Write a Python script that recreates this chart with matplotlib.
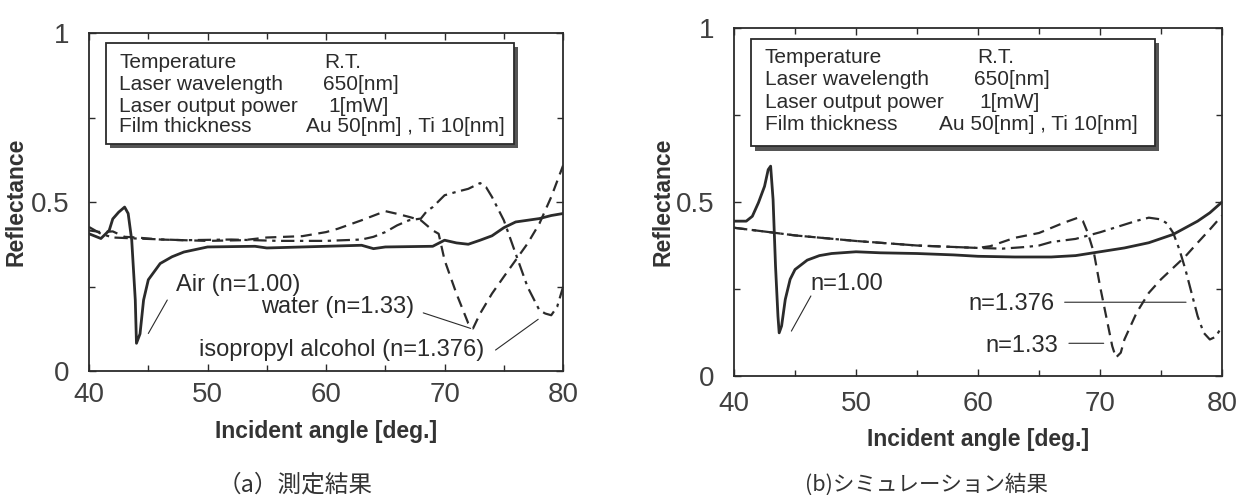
import matplotlib.pyplot as plt
import matplotlib.patches as patches
import numpy as np

plt.rcParams['font.family'] = ['Liberation Sans', 'Noto Sans CJK JP', 'DejaVu Sans']

# (a) measured
meas_air_x = [40, 41, 41.7, 42, 42.5, 43, 43.3, 43.6, 43.9, 44.0, 44.3, 44.6, 45, 46, 47, 48, 50,
              54, 55, 60, 63, 64, 65, 69, 70, 71, 72, 73, 74, 75, 76, 77, 78, 79, 80]
meas_air_y = [0.406, 0.392, 0.416, 0.45, 0.47, 0.485, 0.466, 0.387, 0.21, 0.082, 0.11, 0.21, 0.27,
              0.318, 0.338, 0.352, 0.367, 0.369, 0.364, 0.369, 0.372, 0.362, 0.367, 0.369, 0.387,
              0.379, 0.375, 0.387, 0.40, 0.424, 0.441, 0.446, 0.451, 0.46, 0.466]
meas_water_x = [40, 41, 42, 43, 44, 46, 50, 53, 55, 58, 60, 61, 63, 65, 66, 67, 68, 69, 69.5, 70,
                71, 72, 72.4, 73, 74, 75, 76, 77, 78, 79, 80]
meas_water_y = [0.416, 0.411, 0.413, 0.397, 0.395, 0.389, 0.385, 0.387, 0.395, 0.399, 0.411, 0.421,
                0.446, 0.473, 0.465, 0.456, 0.446, 0.416, 0.406, 0.328, 0.229, 0.141, 0.126, 0.17,
                0.229, 0.279, 0.328, 0.377, 0.436, 0.515, 0.608]
meas_ipa_x = [40, 41, 42, 44, 48, 52, 56, 60, 63, 64, 65, 66, 67, 68, 68.5, 69, 70, 71, 72, 73,
              73.5, 74, 75, 76, 77, 78, 78.5, 79, 79.5, 80]
meas_ipa_y = [0.426, 0.406, 0.395, 0.392, 0.387, 0.389, 0.385, 0.385, 0.389, 0.397, 0.411, 0.431,
              0.446, 0.451, 0.473, 0.485, 0.52, 0.53, 0.539, 0.556, 0.544, 0.515, 0.446, 0.347,
              0.249, 0.18, 0.17, 0.165, 0.19, 0.249]

# (b) simulation
sim_air_x = [40, 41, 41.5, 42, 42.5, 42.8, 43.0, 43.2, 43.4, 43.6, 43.7, 43.9, 44.2, 44.6, 45, 46,
             47, 48, 50, 52, 55, 58, 60, 63, 66, 68, 70, 72, 74, 76, 78, 79, 80]
sim_air_y = [0.445, 0.445, 0.459, 0.498, 0.545, 0.593, 0.603, 0.507, 0.316, 0.172, 0.124, 0.144,
             0.22, 0.278, 0.306, 0.333, 0.346, 0.352, 0.357, 0.354, 0.352, 0.348, 0.344, 0.342,
             0.342, 0.346, 0.357, 0.368, 0.383, 0.407, 0.445, 0.469, 0.5]
sim_water_x = [40, 43, 45, 50, 55, 60, 61, 63, 65, 67, 68.2, 68.6, 69, 69.5, 70, 70.5, 71, 71.3,
               71.7, 72, 73, 74, 75, 76, 77, 78, 79, 80]
sim_water_y = [0.426, 0.413, 0.404, 0.388, 0.375, 0.368, 0.373, 0.397, 0.411, 0.44, 0.455, 0.445,
               0.411, 0.354, 0.258, 0.172, 0.086, 0.053, 0.067, 0.105, 0.182, 0.239, 0.278, 0.311,
               0.344, 0.383, 0.421, 0.461]
sim_ipa_x = [40, 43, 45, 50, 55, 60, 62, 64, 65, 66, 68, 70, 72, 73, 74, 75, 75.5, 76, 76.5, 77,
             77.5, 78, 78.5, 79, 79.5, 80]
sim_ipa_y = [0.426, 0.413, 0.404, 0.388, 0.375, 0.368, 0.366, 0.371, 0.375, 0.385, 0.394, 0.413,
             0.435, 0.446, 0.455, 0.45, 0.438, 0.411, 0.364, 0.306, 0.239, 0.172, 0.124, 0.105,
             0.113, 0.144]

cond_names = ['Temperature', 'Laser wavelength', 'Laser output power', 'Film thickness']
cond_values = ['R.T.', '650[nm]', '1[mW]', 'Au 50[nm] , Ti 10[nm]']

ink = '#2b2b2b'
fig = plt.figure(figsize=(12.37, 4.95), dpi=100)
axa = fig.add_axes([0.0720, 0.2505, 0.3832, 0.6828])
axb = fig.add_axes([0.5934, 0.2404, 0.3945, 0.7030])


def style(ax, xpad):
    ax.set_xlim(40, 80)
    ax.set_ylim(0, 1)
    ax.set_xticks([40, 50, 60, 70, 80])
    ax.set_xticks([45, 55, 65, 75], minor=True)
    ax.set_yticks([0, 0.5, 1])
    ax.set_yticklabels(['0', '0.5', '1'])
    ax.set_yticks([0.25, 0.75], minor=True)
    ax.tick_params(which='both', direction='in', top=True, right=True, color=ink, width=1)
    ax.tick_params(which='major', length=5, labelsize=20, labelcolor='#404040')
    ax.tick_params(which='minor', length=4)
    ax.tick_params(axis='y', pad=14)
    ax.tick_params(axis='x', pad=xpad)
    for s in ax.spines.values():
        s.set_linewidth(1.3)
        s.set_color(ink)
    ax.set_xlabel('Incident angle [deg.]', fontsize=16.5, fontweight='bold', color='#333333')
    ax.set_ylabel('Reflectance', fontsize=16.5, fontweight='bold', color='#333333')


def info_box(ax, x0, x1, y0, y1, tx, cols, rows):
    ax.add_patch(patches.Rectangle((x0 + 0.008, y0 - 0.012), x1 - x0, y1 - y0,
                                   transform=ax.transAxes, facecolor='#555555',
                                   edgecolor='none', zorder=4))
    ax.add_patch(patches.Rectangle((x0, y0), x1 - x0, y1 - y0, transform=ax.transAxes,
                                   facecolor='white', edgecolor=ink, linewidth=1.3, zorder=5))
    for name, val, cx, ry in zip(cond_names, cond_values, cols, rows):
        ax.text(tx, ry, name, transform=ax.transAxes, fontsize=15, color=ink,
                va='center', zorder=6)
        ax.text(cx, ry, val, transform=ax.transAxes, fontsize=15, color=ink,
                va='center', zorder=6)


def leader(ax, p0, p1):
    ax.annotate('', xy=p1, xytext=p0,
                arrowprops=dict(arrowstyle='-', color=ink, lw=0.8, shrinkA=0, shrinkB=0))


# (a)
style(axa, 8)
axa.plot(meas_air_x, meas_air_y, color=ink, lw=2.0, ls='-')
axa.plot(meas_water_x, meas_water_y, color=ink, lw=1.6, ls=(0, (5, 3)))
axa.plot(meas_ipa_x, meas_ipa_y, color=ink, lw=1.6, ls=(0, (6, 2.5, 1.5, 2.5)))
info_box(axa, 0.036, 0.897, 0.672, 0.970, 0.064,
         [0.497, 0.493, 0.505, 0.458], [0.914, 0.849, 0.784, 0.722])
axa.text(47.3, 0.254, 'Air (n=1.00)', fontsize=17, color=ink, va='center')
leader(axa, (46.6, 0.21), (45.0, 0.111))
axa.text(54.5, 0.19, 'water (n=1.33)', fontsize=17, color=ink, va='center')
leader(axa, (68.2, 0.172), (72.2, 0.126))
axa.text(49.3, 0.062, 'isopropyl alcohol (n=1.376)', fontsize=17, color=ink, va='center')
leader(axa, (74.3, 0.062), (77.9, 0.153))
axa.xaxis.set_label_coords(0.5, -0.145)
axa.yaxis.set_label_coords(-0.129, 0.5)

# (b)
style(axb, 11)
axb.plot(sim_air_x, sim_air_y, color=ink, lw=2.0, ls='-')
axb.plot(sim_water_x, sim_water_y, color=ink, lw=1.6, ls=(0, (5, 3)))
axb.plot(sim_ipa_x, sim_ipa_y, color=ink, lw=1.6, ls=(0, (6, 2.5, 1.5, 2.5)))
info_box(axb, 0.035, 0.863, 0.660, 0.968, 0.063,
         [0.4976, 0.492, 0.502, 0.421], [0.914, 0.851, 0.787, 0.724])
axb.text(46.25, 0.263, 'n=1.00', fontsize=17, color=ink, va='center')
leader(axb, (46.3, 0.23), (44.7, 0.129))
axb.text(66.3, 0.206, 'n=1.376', fontsize=17, color=ink, va='center', ha='right')
leader(axb, (67.1, 0.212), (77.05, 0.212))
axb.text(66.6, 0.086, 'n=1.33', fontsize=17, color=ink, va='center', ha='right')
leader(axb, (67.45, 0.094), (70.3, 0.094))
axb.xaxis.set_label_coords(0.5, -0.149)
axb.yaxis.set_label_coords(-0.121, 0.5)

fig.text(295 / 1237, 1 - 485 / 495, '（a）測定結果', fontsize=17, color='#333333',
         ha='center', va='center', family=['Noto Sans CJK JP', 'DejaVu Sans'])
fig.text(926 / 1237, 1 - 485 / 495, '(b)シミュレーション結果', fontsize=15.5, color='#333333',
         ha='center', va='center', family=['Noto Sans CJK JP', 'DejaVu Sans'])

fig.savefig('out.png', dpi=100)
